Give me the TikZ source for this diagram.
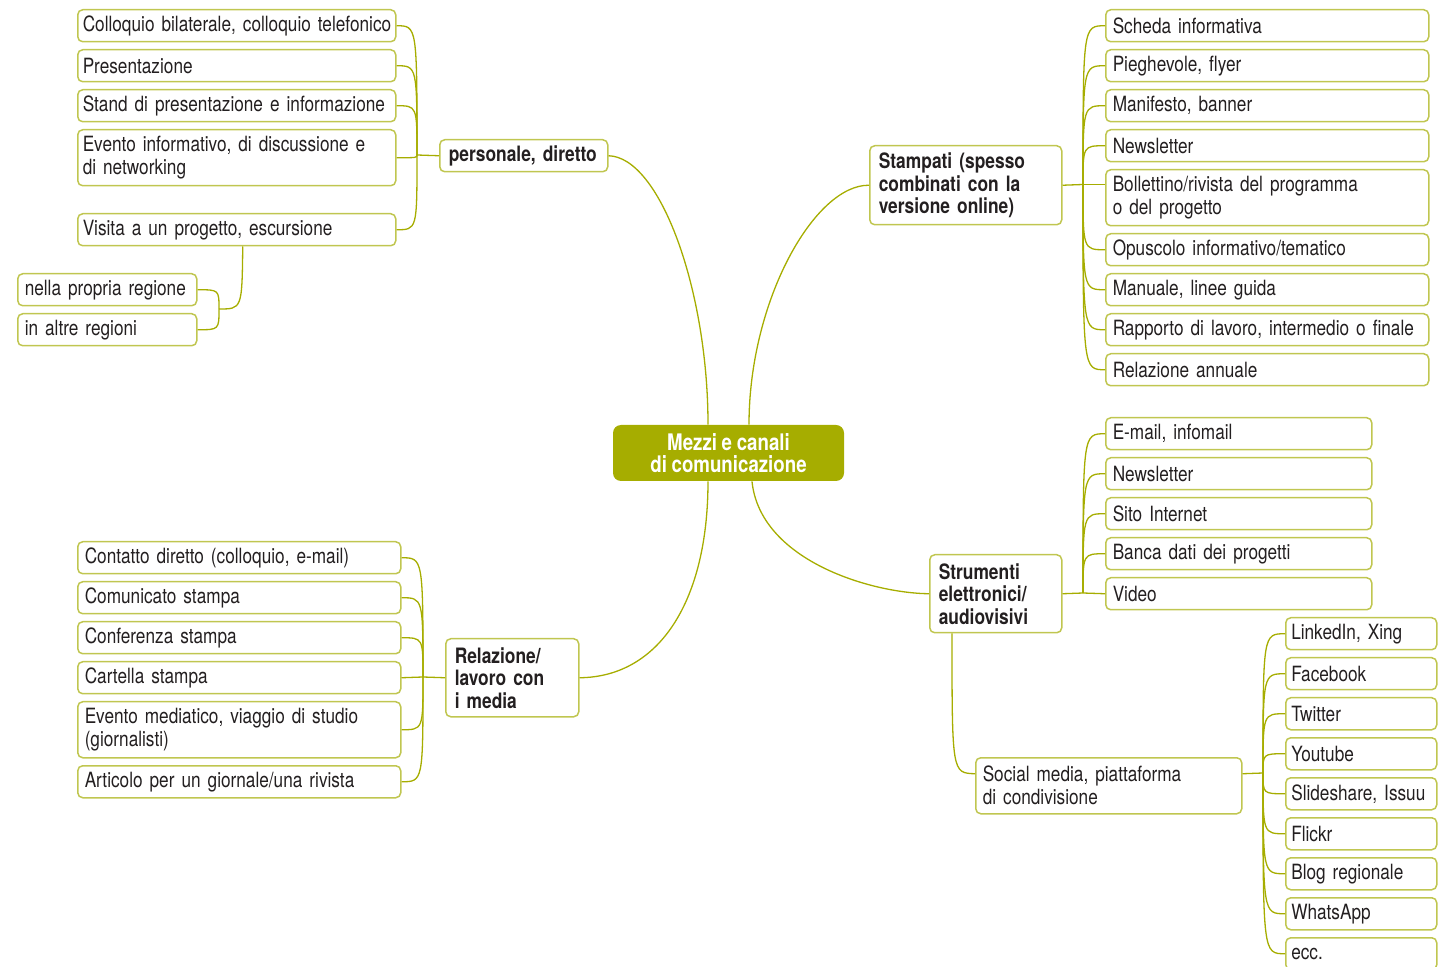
\documentclass[tikz,border=0pt]{standalone}
\usepackage{fontspec}
\setmainfont{TeX Gyre Heros}[FakeStretch=0.82,WordSpace=0.9]
\usetikzlibrary{positioning,chains,calc}
\definecolor{myolive}{RGB}{166,173,0}
\definecolor{mylight}{RGB}{192,198,80}
\definecolor{mytext}{RGB}{35,31,32}

\begin{document}
\begin{tikzpicture}[x=0.5pt,y=-0.5pt,
  leafnode/.style={draw=mylight,line width=0.75pt,rounded corners=2.5pt,
    inner xsep=3.5pt,inner ysep=0pt,minimum height=16pt,text width=#1,
    align=left,text=mytext,font=\fontsize{10.5}{11.5}\selectfont},
  topicnode/.style={leafnode=#1,inner xsep=4.5pt,
    font=\bfseries\fontsize{10.6}{11.25}\selectfont},
  rootnode/.style={fill=myolive,rounded corners=4pt,inner sep=0pt,
    minimum width=115.5pt,minimum height=28pt,align=center,text=white,
    font=\bfseries\fontsize{11.4}{11}\selectfont},
  link/.style={draw=myolive,line width=0.65pt}
]
\useasboundingbox (0,0) rectangle (1446,967);

% the central topic
\node[rootnode] (root) at (728.5,453) {Mezzi e canali\\di comunicazione};

% the main branches
\node[topicnode=75pt,anchor=north west] (pd) at (439,139) {personale, diretto};
\node[topicnode=87pt,minimum height=39.5pt,anchor=north west] (st) at (869,145)
  {Stampati (spesso\\combinati con la\\versione online)};
\node[topicnode=57pt,minimum height=39pt,anchor=north west] (str) at (929,554)
  {Strumenti\\elettronici/\\audiovisivi};
\node[topicnode=57.5pt,minimum height=39pt,anchor=north west] (rm) at (445,638)
  {Relazione/\\lavoro con\\i media};

% personale, diretto
\begin{scope}[start chain=going below,node distance=3.25pt]
  \node[leafnode=154pt,inner xsep=2.5pt,on chain,anchor=north west] (pd1) at (77,9) {\mbox{Colloquio bilaterale, colloquio telefonico}};
  \node[leafnode=154pt,inner xsep=2.5pt,on chain] (pd2) {Presentazione};
  \node[leafnode=154pt,inner xsep=2.5pt,on chain] (pd3) {Stand di presentazione e informazione};
  \node[leafnode=154pt,inner xsep=2.5pt,on chain,minimum height=28pt] (pd4) {Evento informativo, di discussione e\\di networking};
\end{scope}
\node[leafnode=154pt,inner xsep=2.5pt,below=13.25pt of pd4] (vis) {Visita a un progetto, escursione};
\begin{scope}[start chain=going below,node distance=3.25pt]
  \node[leafnode=82.5pt,on chain,anchor=north west] (sub1) at (17,273) {nella propria regione};
  \node[leafnode=82.5pt,on chain] (sub2) {in altre regioni};
\end{scope}

% stampati
\begin{scope}[start chain=going below,node distance=3.25pt]
  \node[leafnode=154.5pt,on chain,anchor=north west] (st1) at (1105,9) {Scheda informativa};
  \node[leafnode=154.5pt,on chain] (st2) {Pieghevole, flyer};
  \node[leafnode=154.5pt,on chain] (st3) {Manifesto, banner};
  \node[leafnode=154.5pt,on chain] (st4) {Newsletter};
  \node[leafnode=154.5pt,on chain,minimum height=28pt] (st5) {Bollettino/rivista del programma\\o del progetto};
  \node[leafnode=154.5pt,on chain] (st6) {Opuscolo informativo/tematico};
  \node[leafnode=154.5pt,on chain] (st7) {Manuale, linee guida};
  \node[leafnode=154.5pt,on chain] (st8) {Rapporto di lavoro, intermedio o finale};
  \node[leafnode=154.5pt,on chain] (st9) {Relazione annuale};
\end{scope}

% strumenti elettronici
\begin{scope}[start chain=going below,node distance=3.25pt]
  \node[leafnode=126pt,on chain,anchor=north west] (el1) at (1105,417) {E-mail, infomail};
  \node[leafnode=126pt,on chain] (el2) {Newsletter};
  \node[leafnode=126pt,on chain] (el3) {Sito Internet};
  \node[leafnode=126pt,on chain] (el4) {Banca dati dei progetti};
  \node[leafnode=126pt,on chain] (el5) {Video};
\end{scope}
\node[leafnode=126pt,minimum height=28pt,anchor=north west] (soc) at (975,757)
  {Social media, piattaforma\\di condivisione};
\begin{scope}[start chain=going below,node distance=3.25pt]
  \node[leafnode=70pt,inner xsep=2.75pt,on chain,anchor=north west] (so1) at (1285,617) {LinkedIn, Xing};
  \node[leafnode=70pt,inner xsep=2.75pt,on chain] (so2) {Facebook};
  \node[leafnode=70pt,inner xsep=2.75pt,on chain] (so3) {Twitter};
  \node[leafnode=70pt,inner xsep=2.75pt,on chain] (so4) {Youtube};
  \node[leafnode=70pt,inner xsep=2.75pt,on chain] (so5) {Slideshare, Issuu};
  \node[leafnode=70pt,inner xsep=2.75pt,on chain] (so6) {Flickr};
  \node[leafnode=70pt,inner xsep=2.75pt,on chain] (so7) {Blog regionale};
  \node[leafnode=70pt,inner xsep=2.75pt,on chain] (so8) {WhatsApp};
  \node[leafnode=70pt,inner xsep=2.75pt,on chain] (so9) {ecc.};
\end{scope}

% relazione con i media
\begin{scope}[start chain=going below,node distance=3.25pt]
  \node[leafnode=154.5pt,on chain,anchor=north west] (rm1) at (77,541) {Contatto diretto (colloquio, e-mail)};
  \node[leafnode=154.5pt,on chain] (rm2) {Comunicato stampa};
  \node[leafnode=154.5pt,on chain] (rm3) {Conferenza stampa};
  \node[leafnode=154.5pt,on chain] (rm4) {Cartella stampa};
  \node[leafnode=154.5pt,on chain,minimum height=28pt] (rm5) {Evento mediatico, viaggio di studio\\(giornalisti)};
  \node[leafnode=154.5pt,on chain] (rm6) {Articolo per un giornale/una rivista};
\end{scope}

% the junctions
\coordinate (jpd) at (417,155);
\coordinate (jvis) at (219,309);
\coordinate (jst) at (1083,184.5);
\coordinate (jel) at (1083,593);
\coordinate (jsoc) at (1263,773);
\coordinate (jrm) at (423,677);

% the edges from the centre
\draw[link] ([xshift=-10.25pt]root.north) .. controls (708,290) and (660,157) .. (pd.east);
\draw[link] ([xshift=10.25pt]root.north) .. controls (749,300) and (815,184.5) .. (st.west);
\draw[link] ([xshift=-10.25pt]root.south) .. controls (708,600) and (660,677) .. (rm.east);
\draw[link] ([xshift=11.75pt]root.south) .. controls (760,560) and (870,593) .. (str.west);

% personale, diretto
\draw[link] (pd.west) -- (jpd);
\draw[link] (pd1.east) .. controls (jpd |- pd1.east) .. (jpd);
\draw[link] (pd2.east) .. controls (jpd |- pd2.east) .. (jpd);
\draw[link] (pd3.east) .. controls (jpd |- pd3.east) .. (jpd);
\draw[link] (pd4.east) .. controls (jpd |- pd4.east) .. (jpd);
\draw[link] (vis.east) .. controls (jpd |- vis.east) .. (jpd);
\draw[link] ([xshift=3pt]vis.south) .. controls (242,309) .. (jvis);
\draw[link] (sub1.east) .. controls (jvis |- sub1.east) .. (jvis);
\draw[link] (sub2.east) .. controls (jvis |- sub2.east) .. (jvis);

% stampati
\draw[link] (st.east) -- (jst);
\draw[link] (jst) .. controls (jst |- st1.west) .. (st1.west);
\draw[link] (jst) .. controls (jst |- st2.west) .. (st2.west);
\draw[link] (jst) .. controls (jst |- st3.west) .. (st3.west);
\draw[link] (jst) .. controls (jst |- st4.west) .. (st4.west);
\draw[link] (jst) -- (jst -| st5.west);
\draw[link] (jst) .. controls (jst |- st6.west) .. (st6.west);
\draw[link] (jst) .. controls (jst |- st7.west) .. (st7.west);
\draw[link] (jst) .. controls (jst |- st8.west) .. (st8.west);
\draw[link] (jst) .. controls (jst |- st9.west) .. (st9.west);

% strumenti elettronici
\draw[link] (str.east) -- (jel);
\draw[link] (jel) .. controls (jel |- el1.west) .. (el1.west);
\draw[link] (jel) .. controls (jel |- el2.west) .. (el2.west);
\draw[link] (jel) .. controls (jel |- el3.west) .. (el3.west);
\draw[link] (jel) .. controls (jel |- el4.west) .. (el4.west);
\draw[link] (jel) -- (el5.west);
\draw[link] ([xshift=11.5pt]str.south west) .. controls (952,773) .. ([yshift=6pt]soc.west);
\draw[link] ([yshift=6pt]soc.east) -- (jsoc);
\draw[link] (jsoc) .. controls (jsoc |- so1.west) .. (so1.west);
\draw[link] (jsoc) .. controls (jsoc |- so2.west) .. (so2.west);
\draw[link] (jsoc) .. controls (jsoc |- so3.west) .. (so3.west);
\draw[link] (jsoc) .. controls (jsoc |- so4.west) .. (so4.west);
\draw[link] (jsoc) .. controls (jsoc |- so5.west) .. (so5.west);
\draw[link] (jsoc) .. controls (jsoc |- so6.west) .. (so6.west);
\draw[link] (jsoc) .. controls (jsoc |- so7.west) .. (so7.west);
\draw[link] (jsoc) .. controls (jsoc |- so8.west) .. (so8.west);
\draw[link] (jsoc) .. controls (jsoc |- so9.west) .. (so9.west);

% relazione con i media
\draw[link] (rm.west) -- (jrm);
\draw[link] (rm1.east) .. controls (jrm |- rm1.east) .. (jrm);
\draw[link] (rm2.east) .. controls (jrm |- rm2.east) .. (jrm);
\draw[link] (rm3.east) .. controls (jrm |- rm3.east) .. (jrm);
\draw[link] (rm4.east) -- (jrm);
\draw[link] (rm5.east) .. controls (jrm |- rm5.east) .. (jrm);
\draw[link] (rm6.east) .. controls (jrm |- rm6.east) .. (jrm);
\end{tikzpicture}
\end{document}
